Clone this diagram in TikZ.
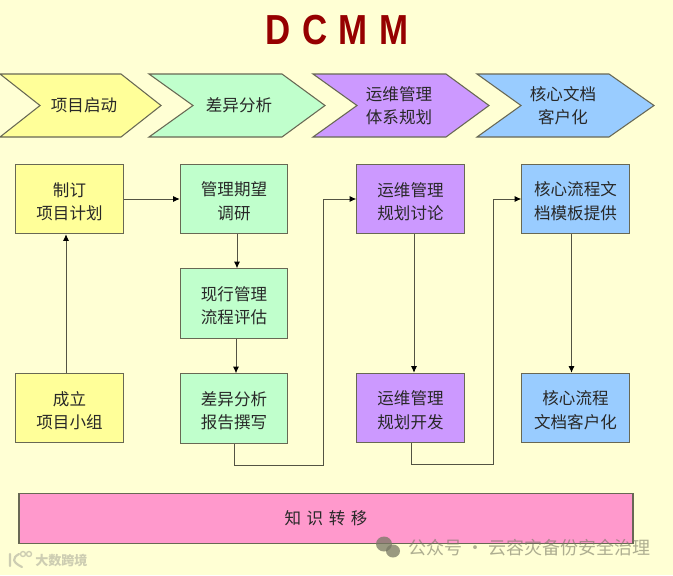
\documentclass[tikz,border=0pt]{standalone}
\usepackage{fontspec}
\usepackage{graphicx}
\setmainfont{Liberation Sans}
\newfontfamily\cjk{Noto Sans CJK SC}
\usetikzlibrary{arrows.meta}
\definecolor{bgc}{RGB}{255,255,212}
\definecolor{yel}{RGB}{255,255,153}
\definecolor{grn}{RGB}{192,255,204}
\definecolor{pur}{RGB}{204,153,255}
\definecolor{blu}{RGB}{153,204,255}
\definecolor{pnk}{RGB}{255,153,204}
\definecolor{edge}{RGB}{104,104,84}
\definecolor{ink}{RGB}{40,40,40}
\definecolor{ttl}{RGB}{150,0,0}
\definecolor{wm}{RGB}{120,120,100}
\definecolor{wmb}{RGB}{205,205,178}
\newcommand{\tp}{\rule{0pt}{14pt}}
\tikzset{
 x=0.75pt,y=-0.75pt,
 chev/.style={draw=edge,line width=0.8pt,line join=miter},
 lab/.style={font=\cjk\fontsize{12.4}{17.5}\selectfont,text=ink,align=center,inner sep=0pt},
 boxn/.style={draw=edge,line width=0.8pt,minimum width=80.5pt,minimum height=52pt,inner sep=0pt,
   font=\cjk\fontsize{12.4}{17.5}\selectfont,text=ink,align=center},
 link/.style={draw=edge!80!black,line width=0.7pt,-{Latex[length=5pt,width=4.5pt,black]}},
}
\begin{document}
\begin{tikzpicture}
\useasboundingbox[fill=bgc] (0,0) rectangle (673,575);
% title
\node[font=\bfseries\fontsize{31.5}{34}\selectfont,text=ttl,inner sep=0pt] (title) at (337,30.5) {\scalebox{0.83}[1]{D\,\,C\,\,M\,\,M}};
% chevrons
\draw[chev,fill=yel] (0,74) -- (121,74) -- (161,105.5) -- (121,137) -- (0,137) -- (40,105.5) -- cycle;
\node[lab] (c1) at (84,105.5) {项目启动};
\draw[chev,fill=grn] (149,74) -- (282,74) -- (325,105.5) -- (282,137) -- (149,137) -- (193,105.5) -- cycle;
\node[lab] (c2) at (239,105.5) {差异分析};
\draw[chev,fill=pur] (313,74) -- (446,74) -- (489,105.5) -- (446,137) -- (313,137) -- (357,105.5) -- cycle;
\node[lab] (c3) at (399,105.5) {运维管理\\体系规划};
\draw[chev,fill=blu] (477,74) -- (609,74) -- (654,105.5) -- (609,137) -- (477,137) -- (521,105.5) -- cycle;
\node[lab] (c4) at (563,105.5) {核心文档\\客户化};
% boxes
\node[boxn,fill=yel] (b1) at (69.5,199) {\tp 制订\\项目计划};
\node[boxn,fill=yel] (b2) at (69.5,408) {\tp 成立\\项目小组};
\node[boxn,fill=grn] (g1) at (234,199) {\tp 管理期望\\调研};
\node[boxn,fill=grn] (g2) at (234,303.5) {\tp 现行管理\\流程评估};
\node[boxn,fill=grn] (g3) at (234,408.5) {\tp 差异分析\\报告撰写};
\node[boxn,fill=pur] (p1) at (410.5,199) {\tp 运维管理\\规划讨论};
\node[boxn,fill=pur] (p2) at (410.5,408) {\tp 运维管理\\规划开发};
\node[boxn,fill=blu] (u1) at (575.5,199) {\tp 核心流程文\\档模板提供};
\node[boxn,fill=blu] (u2) at (575.5,408) {\tp 核心流程\\文档客户化};
\node[draw=edge,line width=0.9pt,fill=pnk,minimum width=460.5pt,minimum height=38pt,inner sep=0pt,
  font=\cjk\fontsize{12.4}{17}\selectfont,text=ink] (k) at (326,518.5) {知\,\,识\,\,转\,\,移};
% connector guide coordinates
\coordinate (xa) at (66,0);
\coordinate (xb) at (237,0);
\coordinate (xc) at (236,0);
\coordinate (xd) at (414,0);
\coordinate (xe) at (571.5,0);
\coordinate (ga) at (234,465.5);
\coordinate (gb) at (323,465.5);
\coordinate (pa) at (411,464);
\coordinate (pb) at (493,464);
% connectors
\draw[link] (b2.north -| xa) -- (b1.south -| xa);
\draw[link] (b1.east) -- (g1.west);
\draw[link] (g1.south -| xb) -- (g2.north -| xb);
\draw[link] (g2.south -| xc) -- (g3.north -| xc);
\draw[link] (p1.south -| xd) -- (p2.north -| xd);
\draw[link] (u1.south -| xe) -- (u2.north -| xe);
\draw[link] (g3.south) -- (ga) -- (gb) -- (gb |- p1.west) -- (p1.west);
\draw[link] (p2.south -| pa) -- (pa) -- (pb) -- (pb |- u1.west) -- (u1.west);
% watermarks
\fill[wm,opacity=.75] (384,544) ellipse (8 and 7.5);
\fill[wm,opacity=.75] (393,551) ellipse (7 and 6.5);
\node[font=\cjk\fontsize{13.5}{15}\selectfont,text=wm,text opacity=.6,inner sep=0pt,anchor=west] (w1) at (408,548) {公众号 · 云容灾备份安全治理};
\draw[wmb,line width=1.6pt,line cap=round] (10,554) -- (10,566) (19,554) .. controls (12,558) and (12,562) .. (22,567);
\draw[wmb,line width=1pt] (23,554) circle (2.5) (29,554) circle (2.5);
\node[font=\cjk\bfseries\fontsize{9.8}{11}\selectfont,text=wmb,inner sep=0pt,anchor=west] (w2) at (35,561) {大数跨境};
\end{tikzpicture}
\end{document}
